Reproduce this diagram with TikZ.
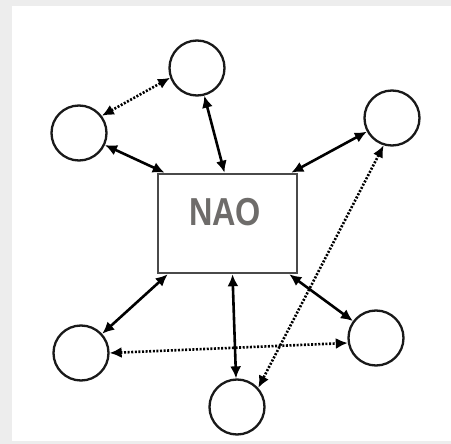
\documentclass[tikz,border=0pt]{standalone}
\usepackage{fontspec}
\setmainfont{Liberation Sans}
\usetikzlibrary{arrows.meta}
\definecolor{bgray}{HTML}{EDEDED}
\definecolor{txtgray}{HTML}{6E6C6A}
\definecolor{boxgray}{HTML}{4A4A4A}
\tikzset{
  agent/.style={circle, draw=black!90, line width=2.3pt, minimum size=55pt, inner sep=0pt, fill=white},
  centerbox/.style={rectangle, draw=boxgray, line width=2.6pt, minimum width=139pt, minimum height=99pt, inner sep=0pt},
  solidlink/.style={line width=2.6pt, {Latex[length=12pt,width=11pt]}-{Latex[length=12pt,width=11pt]}},
  dotlink/.style={line width=2.6pt, dash pattern=on 2pt off 1.6pt, {Latex[length=12pt,width=11pt]}-{Latex[length=12pt,width=11pt]}},
}
\begin{document}
\begin{tikzpicture}[x=1pt,y=-1pt]
\fill[bgray] (0,0) rectangle (451,444);
\fill[white] (12,6) rectangle (451,441);
\useasboundingbox (0,0) rectangle (451,444);

\node[centerbox] (box) at (227.5,223.5) {};
\node[text=txtgray, font=\bfseries\fontsize{39}{39}\selectfont, xscale=0.83, inner sep=0pt] (nao) at (225,212) {NAO};

\node[agent] (top) at (197,68) {};
\node[agent] (ul) at (79,133) {};
\node[agent] (ur) at (392,118) {};
\node[agent] (ll) at (81,353) {};
\node[agent] (lr) at (376,338) {};
\node[agent] (bot) at (237,407) {};

\draw[solidlink] (ul) -- ([xshift=8pt]box.north west);
\draw[solidlink] (top) -- ([xshift=-3pt]box.north);
\draw[solidlink] (ur) -- ([xshift=-7pt]box.north east);
\draw[solidlink] (ll) -- ([xshift=11pt]box.south west);
\draw[solidlink] ([xshift=5pt]box.south) -- (bot);
\draw[solidlink] ([xshift=-9pt]box.south east) -- (lr);

\draw[dotlink] (ul.37) -- (top.200);
\draw[dotlink] (ll.0) -- (lr.190);
\draw[dotlink] (ur.253) -- (bot.42);
\end{tikzpicture}
\end{document}
